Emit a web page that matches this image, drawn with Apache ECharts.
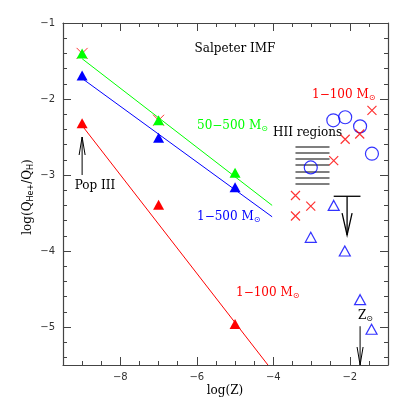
<!DOCTYPE html>
<html>
<head>
<meta charset="utf-8">
<script src="https://cdn.jsdelivr.net/npm/echarts@6/dist/echarts.min.js"></script>
<style>
  html, body { margin: 0; padding: 0; background: #fff; }
  #main { width: 409px; height: 409px; }
</style>
</head>
<body>
<div id="main"></div>
<script>
// model points at Z = 1e-9, 1e-7, 1e-5
var modelZ = [-9, -7, -5];
var green500 = [-1.40, -2.28, -2.97];   // 50-500 Msun
var blue500 = [-1.69, -2.51, -3.16];    // 1-500 Msun
var red100 = [-2.32, -3.39, -4.96];     // 1-100 Msun

// fitted lines (start / end)
var greenFitX = [-9, -4.03];
var greenFitY = [-1.47, -3.40];
var blueFitX = [-9, -4.03];
var blueFitY = [-1.73, -3.55];
var redFitX = [-9, -4.14];
var redFitY = [-2.35, -5.5];

// HII regions
var circleX = [-2.43, -2.12, -1.73, -1.42, -3.02];
var circleY = [-2.28, -2.24, -2.36, -2.72, -2.90];
var crossX = [-1.42, -1.74, -2.12, -2.42, -3.42, -3.02, -3.42];
var crossY = [-2.15, -2.46, -2.53, -2.81, -3.27, -3.41, -3.54];
var openTriX = [-2.42, -3.02, -2.13, -1.73, -1.43];
var openTriY = [-3.40, -3.82, -4.00, -4.64, -5.03];

// hatched box
var hatchX = [-3.42, -2.53];
var hatchY = [-2.63, -2.71, -2.79, -2.87, -2.96, -3.04, -3.12];

// upper limit: x, y, arrow tip, bar from, bar to
var upperLimit = [[-2.07, -3.28, -3.79, -2.42, -1.72]];
// arrows: x, tail, tip
var arrows = [[-9, -3.0, -2.50], [-1.73, -4.99, -5.5]];

// ticks
var xMajor = [-8, -6, -4, -2];
var xMinor = [-9, -8.5, -7.5, -7, -6.5, -5.5, -5, -4.5, -3.5, -3, -2.5, -1.5];
var yMajor = [-5, -4, -3, -2, -1];
var yMinor = [-5.4, -5.2, -4.8, -4.6, -4.4, -4.2, -3.8, -3.6, -3.4, -3.2,
              -2.8, -2.6, -2.4, -2.2, -1.8, -1.6, -1.4, -1.2];

function zip(xs, ys) {
  return xs.map(function (x, i) { return [x, ys[i]]; });
}

var axisColor = '#444';
var serif = 'DejaVu Serif';
var tickFmt = function (v) { return String(v).replace('-', '\u2212'); };

function xAx(pos, major) {
  return {
    type: 'value', min: -9.5, max: -1, position: pos,
    axisLine: { show: !major, lineStyle: { color: axisColor, width: 1.2 } },
    axisTick: { show: true, inside: true, length: major ? 8 : 4,
      customValues: major ? xMajor : xMinor,
      lineStyle: { color: axisColor, width: 1 } },
    axisLabel: { show: major && pos === 'bottom', customValues: xMajor, formatter: tickFmt,
      fontFamily: 'DejaVu Sans', fontSize: 10, color: '#333', margin: 7 },
    splitLine: { show: false }
  };
}
function yAx(pos, major) {
  return {
    type: 'value', min: -5.5, max: -1, position: pos,
    axisLine: { show: !major, lineStyle: { color: axisColor, width: 1.2 } },
    axisTick: { show: true, inside: true, length: major ? 8 : 4,
      customValues: major ? yMajor : yMinor,
      lineStyle: { color: axisColor, width: 1 } },
    axisLabel: { show: major && pos === 'left', customValues: yMajor, formatter: tickFmt,
      fontFamily: 'DejaVu Sans', fontSize: 10, color: '#333', margin: 8 },
    splitLine: { show: false }
  };
}

function fitLine(xs, ys, color) {
  return { type: 'line', data: zip(xs, ys), showSymbol: false, silent: true,
    lineStyle: { color: color, width: 1 }, z: 1 };
}
function filledTri(ys, color) {
  return { type: 'scatter', data: zip(modelZ, ys), symbol: 'triangle',
    symbolSize: [11, 10], itemStyle: { color: color, opacity: 1 }, z: 4 };
}

var crossPath = 'path://M0,0L10,10M10,0L0,10';
var subRich = { s: { fontSize: 8, fontFamily: 'DejaVu Sans', verticalAlign: 'bottom', padding: [6, 0, 0, 0] } };

var myChart = echarts.init(document.getElementById('main'));
var option = {
  animation: false,
  grid: { left: 63, right: 21, top: 23, bottom: 44 },
  xAxis: [xAx('bottom', false), xAx('bottom', true), xAx('top', false), xAx('top', true)],
  yAxis: [yAx('left', false), yAx('left', true), yAx('right', false), yAx('right', true)],
  series: [
    fitLine(greenFitX, greenFitY, '#00ff00'),
    fitLine(blueFitX, blueFitY, '#0000ff'),
    fitLine(redFitX, redFitY, '#ff0000'),
    { type: 'scatter', data: zip(modelZ.slice(0, 2), green500.slice(0, 2)), symbol: crossPath,
      symbolSize: 11, itemStyle: { color: 'none', borderColor: '#ff0000', borderWidth: 1 }, z: 3 },
    filledTri(green500, '#00ff00'),
    filledTri(blue500, '#0000ff'),
    filledTri(red100, '#ff0000'),
    { type: 'scatter', data: zip(circleX, circleY), symbol: 'circle', symbolSize: 13,
      itemStyle: { color: 'none', borderColor: '#0000ff', borderWidth: 1.2 }, z: 4 },
    { type: 'scatter', data: zip(crossX, crossY), symbol: crossPath, symbolSize: 9,
      itemStyle: { color: 'none', borderColor: '#ff0000', borderWidth: 1.2 }, z: 4 },
    { type: 'scatter', data: zip(openTriX, openTriY), symbol: 'triangle', symbolSize: [11, 10],
      itemStyle: { color: 'none', borderColor: '#0000ff', borderWidth: 1.2 }, z: 4 },
    {
      type: 'custom', data: hatchY.map(function (y) { return [hatchX[0], hatchX[1], y]; }),
      renderItem: function (params, api) {
        var a = api.coord([api.value(0), api.value(2)]);
        var b = api.coord([api.value(1), api.value(2)]);
        return { type: 'line', shape: { x1: a[0], y1: a[1], x2: b[0], y2: b[1] },
          style: { stroke: '#555', lineWidth: 1.5 } };
      }, z: 2
    },
    {
      type: 'custom', data: arrows,
      renderItem: function (params, api) {
        var t = api.coord([api.value(0), api.value(1)]);
        var h = api.coord([api.value(0), api.value(2)]);
        var d = h[1] < t[1] ? -1 : 1;
        return { type: 'group', children: [
          { type: 'line', shape: { x1: t[0], y1: t[1], x2: h[0], y2: h[1] },
            style: { stroke: '#000', lineWidth: 1 } },
          { type: 'polyline', shape: { points: [[h[0] - 3, h[1] - d * 18], [h[0], h[1]], [h[0] + 3, h[1] - d * 18]] },
            style: { stroke: '#000', fill: null, lineWidth: 1 } }
        ] };
      }, z: 5
    },
    {
      type: 'custom', data: upperLimit,
      renderItem: function (params, api) {
        var p = api.coord([api.value(0), api.value(1)]);
        var h = api.coord([api.value(0), api.value(2)]);
        var l = api.coord([api.value(3), api.value(1)]);
        var r = api.coord([api.value(4), api.value(1)]);
        return { type: 'group', children: [
          { type: 'line', shape: { x1: l[0], y1: l[1], x2: r[0], y2: r[1] },
            style: { stroke: '#000', lineWidth: 1.3 } },
          { type: 'line', shape: { x1: p[0], y1: p[1], x2: h[0], y2: h[1] },
            style: { stroke: '#000', lineWidth: 1.3 } },
          { type: 'polyline', shape: { points: [[h[0] - 5, h[1] - 22], [h[0], h[1]], [h[0] + 5, h[1] - 22]] },
            style: { stroke: '#000', fill: null, lineWidth: 1.3 } }
        ] };
      }, z: 5
    }
  ],
  graphic: [
    { type: 'text', x: 235, y: 49, style: { text: 'Salpeter IMF', fill: '#000', font: '12px ' + serif, align: 'center', verticalAlign: 'middle' } },
    { type: 'text', x: 197, y: 126, style: { text: '50\u2212500 M{s|\u2299}', fill: '#00ff00', font: '12px ' + serif, verticalAlign: 'middle', rich: subRich } },
    { type: 'text', x: 197, y: 217, style: { text: '1\u2212500 M{s|\u2299}', fill: '#0000ff', font: '12px ' + serif, verticalAlign: 'middle', rich: subRich } },
    { type: 'text', x: 236, y: 293, style: { text: '1\u2212100 M{s|\u2299}', fill: '#ff0000', font: '12px ' + serif, verticalAlign: 'middle', rich: subRich } },
    { type: 'text', x: 312, y: 95, style: { text: '1\u2212100 M{s|\u2299}', fill: '#ff0000', font: '12px ' + serif, verticalAlign: 'middle', rich: subRich } },
    { type: 'text', x: 273, y: 133, style: { text: 'HII regions', fill: '#000', font: '12px ' + serif, verticalAlign: 'middle' } },
    { type: 'text', x: 95, y: 186, style: { text: 'Pop III', fill: '#000', font: '12px ' + serif, align: 'center', verticalAlign: 'middle' } },
    { type: 'text', x: 358, y: 316, style: { text: 'Z{s|\u2299}', fill: '#000', font: '12px ' + serif, verticalAlign: 'middle', rich: subRich } },
    { type: 'text', x: 225, y: 391, style: { text: 'log(Z)', fill: '#000', font: '12px ' + serif, align: 'center', verticalAlign: 'middle' } },
    { type: 'text', x: 28, y: 197, rotation: Math.PI / 2,
      style: { text: 'log(Q{s|He+}/Q{s|H})', fill: '#000', font: '12px ' + serif, align: 'center', verticalAlign: 'middle', rich: subRich } }
  ]
};

option && myChart.setOption(option);
</script>
</body>
</html>
